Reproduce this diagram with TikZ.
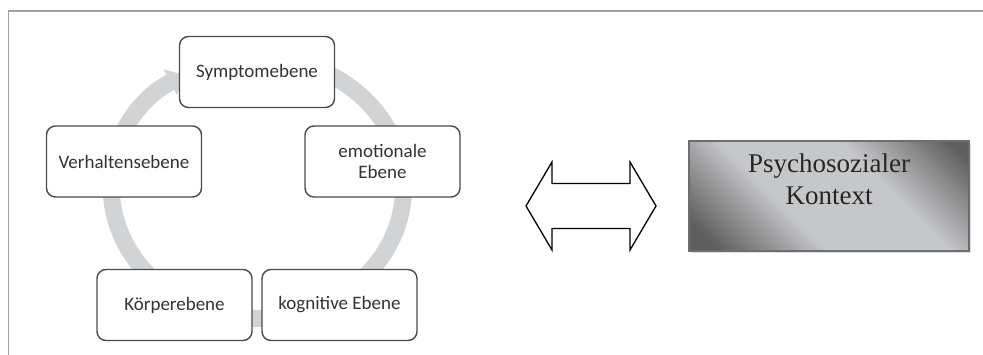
\documentclass[tikz,border=0pt]{standalone}
\usepackage{fontspec}
\setmainfont{Carlito}
\newfontfamily\ctxfont{Liberation Serif}
\usetikzlibrary{arrows.meta,shadows}

\definecolor{ringgray}{HTML}{D2D3D5}
\definecolor{framegray}{HTML}{A2A2A2}
\definecolor{boxline}{HTML}{4A4A4A}
\definecolor{ctxdark}{HTML}{5E5E5E}
\definecolor{ctxlight}{HTML}{C6C7C9}
\definecolor{ctxline}{HTML}{6E6E6E}

\pgfdeclareverticalshading{ctxshade}{100bp}{color(0bp)=(ctxdark); color(20bp)=(ctxdark);
  color(40bp)=(ctxlight); color(62bp)=(ctxlight); color(82bp)=(ctxdark); color(100bp)=(ctxdark)}

\tikzset{
  level/.style={draw=boxline, line width=1.4pt, rounded corners=9pt, fill=white,
    minimum width=155pt, minimum height=71pt, inner sep=0pt, align=center,
    text=black!80, font=\fontsize{19}{20.5}\selectfont},
  ring/.style={draw=ringgray, line width=17pt},
  dblarrow/.style={draw=black, line width=1.3pt, fill=white, line join=miter},
  ctxbox/.style={draw=ctxline, line width=1.6pt, minimum width=280pt,
    minimum height=110pt, inner sep=0pt, shading=ctxshade, shading angle=-45,
    drop shadow={shadow xshift=2pt, shadow yshift=-2pt, opacity=0.25}},
  ctxtext/.style={font=\ctxfont\fontsize{27}{32.5}\selectfont, align=center,
    text=black!85, inner sep=0pt}
}

\begin{document}
\begin{tikzpicture}[>=Stealth, x=1pt, y=1pt]
\useasboundingbox (0,0) rectangle (983,355);
% frame
\draw[framegray, line width=1.5pt] (8.5,0) -- (8.5,344) -- (983,344);
% cycle ring, behind the levels
\coordinate (ringc) at (257.5,167);
\draw[ring, -{Triangle[width=28pt,length=16pt]}] (ringc) ++(115:146 and 130.5)
    arc[start angle=115, end angle=-240, x radius=146, y radius=130.5];
% levels
\node[level] (symptom) at (257,283) {Symptomebene};
\node[level] (emotion) at (382.5,193.5) {emotionale\\Ebene};
\node[level] (verhalten) at (124,193.5) {Verhaltensebene};
\node[level] (koerper) at (174.5,50) {Körperebene};
\node[level] (kognitiv) at (339.5,50) {kognitive Ebene};
% double arrow
\coordinate (dbl) at (591,149);
\draw[dblarrow, shift={(dbl)}] (-65,0) -- (-39,44) -- (-39,22.5) -- (39,22.5)
    -- (39,44) -- (65,0) -- (39,-44) -- (39,-22.5) -- (-39,-22.5) -- (-39,-44) -- cycle;
% context
\node[ctxbox] (ctx) at (829,159) {};
\node[ctxtext, anchor=north] (ctxlabel) at ([yshift=-13pt]ctx.north)
    {Psychosozialer\\Kontext};
\end{tikzpicture}
\end{document}
